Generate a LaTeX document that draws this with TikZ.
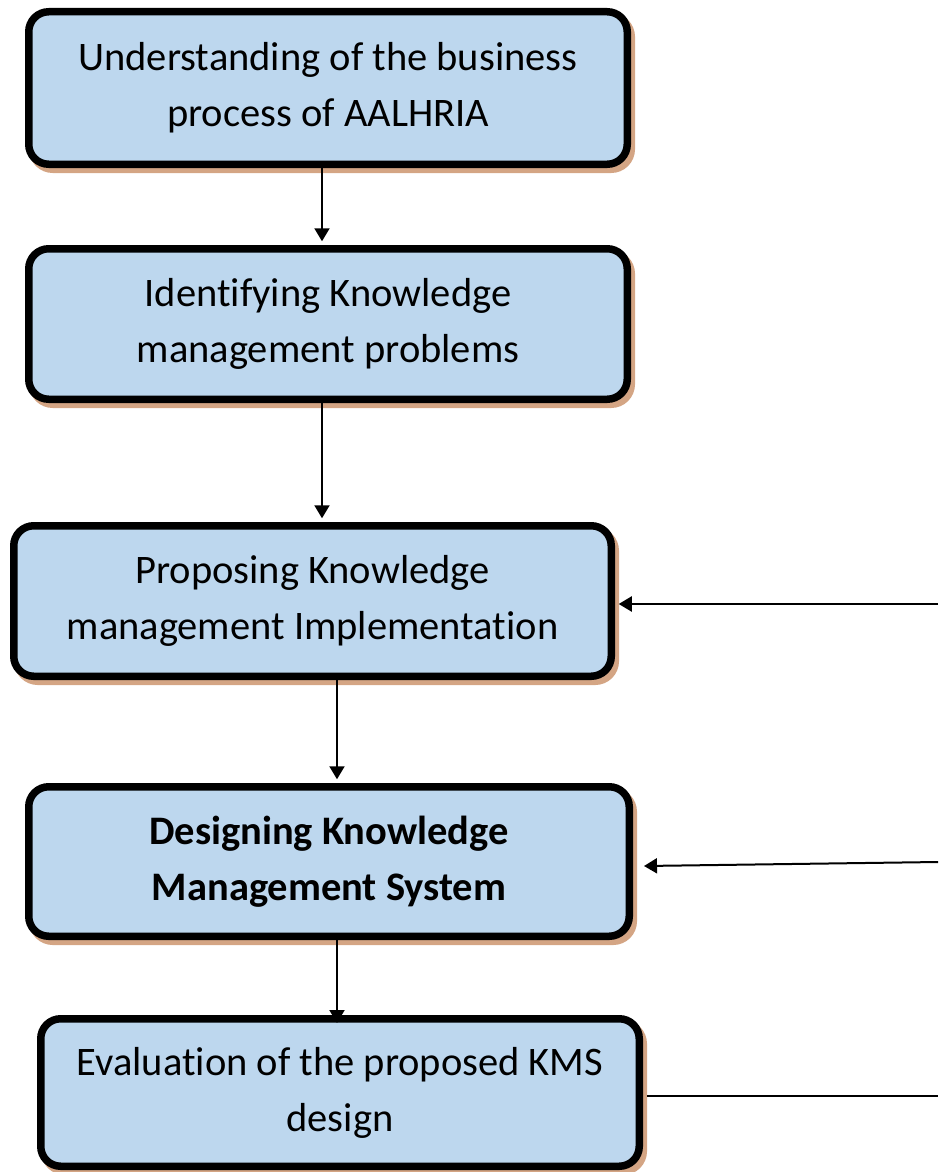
\documentclass[tikz,border=0pt]{standalone}
\usepackage{fontspec}
\setmainfont[Ligatures={NoCommon,NoContextual,NoRequired},Contextuals=NoAlternate]{Carlito}
\usetikzlibrary{arrows.meta,shadows}
\definecolor{boxblue}{RGB}{189,215,238}
\definecolor{shadowtan}{RGB}{212,165,132}
% keep "t" and "i" as separate letters
\newcommand{\tisep}{t\kern0pt i}
\tikzset{
  stepbox/.style={draw=black, line width=7.5pt, fill=boxblue, rounded corners=20pt,
    inner sep=0pt, align=center, font=\fontsize{40.5}{56}\selectfont,
    drop shadow={shadow xshift=4pt, shadow yshift=-5pt, fill=shadowtan,
      draw=shadowtan, line width=7.5pt, opacity=1}},
  flow/.style={line width=2pt, -{Triangle[length=13pt,width=15pt]}},
  plain/.style={line width=2pt}
}
\begin{document}
\begin{tikzpicture}[x=1pt,y=-1pt]
\useasboundingbox (0,0) rectangle (938,1172);

% process steps
\node[stepbox, minimum width=598.5pt, minimum height=152.5pt] (b1) at (328,88)
  {Understanding of the business\\process of AALHRIA};
\node[stepbox, minimum width=598.5pt, minimum height=150.5pt] (b2) at (328,324)
  {Iden\tisep fying Knowledge\\management problems};
\node[stepbox, minimum width=597.5pt, minimum height=150.5pt] (b3) at (312.5,601)
  {Proposing Knowledge\\management Implementa\tisep on};
\node[stepbox, minimum width=600.5pt, minimum height=149.5pt] (b4) at (329,861.5)
  {\bfseries Designing Knowledge\\\bfseries Management System};
\node[stepbox, minimum width=598.5pt, minimum height=147.5pt] (b5) at (340,1092.5)
  {Evaluation of the proposed KMS\\design};

% downward flow
\draw[flow, shorten >=3.75pt] ([xshift=-6pt]b1.south) -- ([xshift=-6pt]b2.north);
\draw[flow, shorten >=3.75pt] ([xshift=-6pt]b2.south) -- ([xshift=9.5pt]b3.north);
\draw[flow, shorten >=3.75pt] ([xshift=24.5pt]b3.south) -- ([xshift=8pt]b4.north);
\draw[flow, shorten >=-8pt] ([xshift=8pt]b4.south) -- ([xshift=-3pt]b5.north);

% feedback lines from the right
\coordinate (r3) at (938,604);
\coordinate (r4) at (938,862);
\coordinate (r5) at (938,1096);
\draw[flow, shorten >=3.75pt] (r3) -- (r3 -| b3.east);
\draw[flow] (r4) -- ([xshift=11pt,yshift=-4.5pt]b4.east);
\draw[plain] ([xshift=3.75pt,yshift=-3.5pt]b5.east) -- (r5);
\end{tikzpicture}
\end{document}
